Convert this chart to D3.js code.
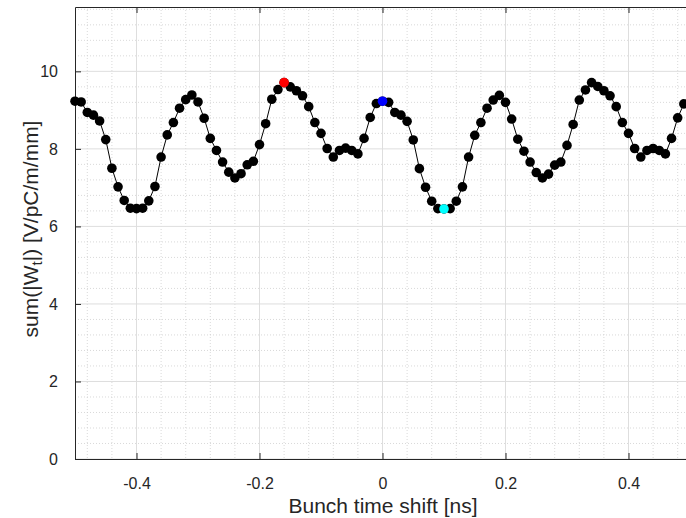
<!DOCTYPE html>
<html>
<head>
<meta charset="utf-8">
<script src="https://cdn.jsdelivr.net/npm/d3@7"></script>
<style>
  html, body { margin: 0; padding: 0; background: #fff; overflow: hidden; }
  svg { display: block; font-family: "Liberation Sans", Arial, Helvetica, sans-serif; }
</style>
</head>
<body>
<svg id="chart" width="686" height="518"></svg>
<script>
// Bunch time shift [ns]
const timeShift = [
  -0.50, -0.49, -0.48, -0.47, -0.46, -0.45, -0.44, -0.43, -0.42, -0.41,
  -0.40, -0.39, -0.38, -0.37, -0.36, -0.35, -0.34, -0.33, -0.32, -0.31,
  -0.30, -0.29, -0.28, -0.27, -0.26, -0.25, -0.24, -0.23, -0.22, -0.21,
  -0.20, -0.19, -0.18, -0.17, -0.16, -0.15, -0.14, -0.13, -0.12, -0.11,
  -0.10, -0.09, -0.08, -0.07, -0.06, -0.05, -0.04, -0.03, -0.02, -0.01,
   0.00,  0.01,  0.02,  0.03,  0.04,  0.05,  0.06,  0.07,  0.08,  0.09,
   0.10,  0.11,  0.12,  0.13,  0.14,  0.15,  0.16,  0.17,  0.18,  0.19,
   0.20,  0.21,  0.22,  0.23,  0.24,  0.25,  0.26,  0.27,  0.28,  0.29,
   0.30,  0.31,  0.32,  0.33,  0.34,  0.35,  0.36,  0.37,  0.38,  0.39,
   0.40,  0.41,  0.42,  0.43,  0.44,  0.45,  0.46,  0.47,  0.48,  0.49,
   0.50
];

// sum(|W_t|) [V/pC/m/mm]
const wakeSum = [
  9.23, 9.21, 8.94, 8.87, 8.72, 8.24, 7.50, 7.02, 6.67, 6.47,
  6.46, 6.47, 6.66, 7.03, 7.79, 8.36, 8.68, 9.05, 9.27, 9.39,
  9.21, 8.79, 8.27, 7.96, 7.66, 7.40, 7.25, 7.36, 7.59, 7.68,
  8.11, 8.65, 9.28, 9.53, 9.71, 9.60, 9.50, 9.37, 9.09, 8.68,
  8.40, 8.01, 7.79, 7.96, 8.02, 7.96, 7.87, 8.27, 8.81, 9.17,
  9.23, 9.20, 8.94, 8.87, 8.71, 8.23, 7.49, 7.01, 6.65, 6.46,
  6.45, 6.46, 6.65, 7.02, 7.79, 8.35, 8.68, 9.05, 9.26, 9.38,
  9.20, 8.77, 8.25, 7.94, 7.66, 7.39, 7.25, 7.35, 7.58, 7.66,
  8.09, 8.63, 9.26, 9.52, 9.71, 9.61, 9.50, 9.37, 9.09, 8.68,
  8.40, 8.01, 7.79, 7.96, 8.01, 7.96, 7.87, 8.27, 8.80, 9.16,
  9.22
];

// Marked shifts: maximum, nominal, minimum
const markedShift = [-0.16, 0.00, 0.10];
const markedColor = ["#ff0000", "#0000ff", "#00ffff"];

const xTicks = [-0.4, -0.2, 0, 0.2, 0.4];
const yTicks = [0, 2, 4, 6, 8, 10];
const xMinorTicks = [-0.48, -0.44, -0.36, -0.32, -0.28, -0.24, -0.16, -0.12, -0.08, -0.04,
                     0.04, 0.08, 0.12, 0.16, 0.24, 0.28, 0.32, 0.36, 0.44, 0.48];
const yMinorTicks = [0.4, 0.8, 1.2, 1.6, 2.4, 2.8, 3.2, 3.6, 4.4, 4.8, 5.2, 5.6,
                     6.4, 6.8, 7.2, 7.6, 8.4, 8.8, 9.2, 9.6, 10.4, 10.8, 11.2, 11.6];

const xLimits = [-0.5, 0.5];
const yLimits = [0, 11.66];

const svg = d3.select("#chart");
const plotLeft = 75, plotTop = 7, plotRight = 690, plotBottom = 459;

const x = d3.scaleLinear().domain(xLimits).range([plotLeft, plotRight]);
const y = d3.scaleLinear().domain(yLimits).range([plotBottom, plotTop]);

const axisColor = "#262626";
const tickFont = 16;
const labelFont = 21;
const markerR = 4.8;

// minor grid (dotted)
const grid = svg.append("g");
grid.selectAll("line.xm").data(xMinorTicks).join("line")
  .attr("x1", d => x(d)).attr("x2", d => x(d))
  .attr("y1", plotTop).attr("y2", plotBottom)
  .attr("stroke", "#cfcfcf").attr("stroke-width", 0.8)
  .attr("stroke-dasharray", "1,2");
grid.selectAll("line.ym").data(yMinorTicks).join("line")
  .attr("x1", plotLeft).attr("x2", plotRight)
  .attr("y1", d => y(d)).attr("y2", d => y(d))
  .attr("stroke", "#cfcfcf").attr("stroke-width", 0.8)
  .attr("stroke-dasharray", "1,2");

// major grid
grid.selectAll("line.xg").data(xTicks).join("line")
  .attr("x1", d => x(d)).attr("x2", d => x(d))
  .attr("y1", plotTop).attr("y2", plotBottom)
  .attr("stroke", "#dedede").attr("stroke-width", 1);
grid.selectAll("line.yg").data(yTicks).join("line")
  .attr("x1", plotLeft).attr("x2", plotRight)
  .attr("y1", d => y(d)).attr("y2", d => y(d))
  .attr("stroke", "#dedede").attr("stroke-width", 1);

// axes with inward ticks
const xAxis = d3.axisBottom(x).tickValues(xTicks).tickSizeInner(-6).tickSizeOuter(0)
  .tickPadding(19).tickFormat(d => d3.format("~g")(d).replace("\u2212", "-"));
const gx = svg.append("g").attr("transform", `translate(0,${plotBottom})`).call(xAxis);
gx.select(".domain").attr("stroke", axisColor);
gx.selectAll(".tick line").attr("stroke", axisColor);
gx.selectAll(".tick text").attr("fill", axisColor).attr("font-size", tickFont)
  .attr("font-family", "Liberation Sans, Arial, sans-serif");

const yAxis = d3.axisLeft(y).tickValues(yTicks).tickSizeInner(-6).tickSizeOuter(0)
  .tickPadding(17);
const gy = svg.append("g").attr("transform", `translate(${plotLeft},0)`).call(yAxis);
gy.select(".domain").attr("stroke", axisColor);
gy.selectAll(".tick line").attr("stroke", axisColor);
gy.selectAll(".tick text").attr("fill", axisColor).attr("font-size", tickFont)
  .attr("font-family", "Liberation Sans, Arial, sans-serif");

// top box edge with inward ticks
const xTop = d3.axisTop(x).tickValues(xTicks).tickSizeInner(-6).tickSizeOuter(0).tickFormat("");
const gt = svg.append("g").attr("transform", `translate(0,${plotTop})`).call(xTop);
gt.select(".domain").attr("stroke", axisColor);
gt.selectAll(".tick line").attr("stroke", axisColor);

// series
const pts = timeShift.map((t, i) => ({ t, v: wakeSum[i] }));
svg.append("path")
  .datum(pts)
  .attr("fill", "none")
  .attr("stroke", "#000")
  .attr("stroke-width", 1)
  .attr("d", d3.line().x(d => x(d.t)).y(d => y(d.v)));

svg.append("g").selectAll("circle").data(pts).join("circle")
  .attr("cx", d => x(d.t)).attr("cy", d => y(d.v))
  .attr("r", markerR).attr("fill", "#000");

const marked = markedShift.map((t, i) => {
  const idx = timeShift.findIndex(s => Math.abs(s - t) < 1e-9);
  return { t, v: wakeSum[idx], c: markedColor[i] };
});
svg.append("g").selectAll("circle").data(marked).join("circle")
  .attr("cx", d => x(d.t)).attr("cy", d => y(d.v))
  .attr("r", markerR).attr("fill", d => d.c);

// axis labels
svg.append("text")
  .attr("x", 383).attr("y", 513)
  .attr("text-anchor", "middle")
  .attr("font-size", labelFont).attr("fill", axisColor)
  .text("Bunch time shift [ns]");

const yl = svg.append("text")
  .attr("transform", `translate(38,229) rotate(-90)`)
  .attr("text-anchor", "middle")
  .attr("font-size", labelFont).attr("fill", axisColor);
yl.append("tspan").text("sum(|W");
yl.append("tspan").attr("font-size", 15).attr("dy", 4).text("t");
yl.append("tspan").attr("dy", -4).text("|) [V/pC/m/mm]");
</script>
</body>
</html>
